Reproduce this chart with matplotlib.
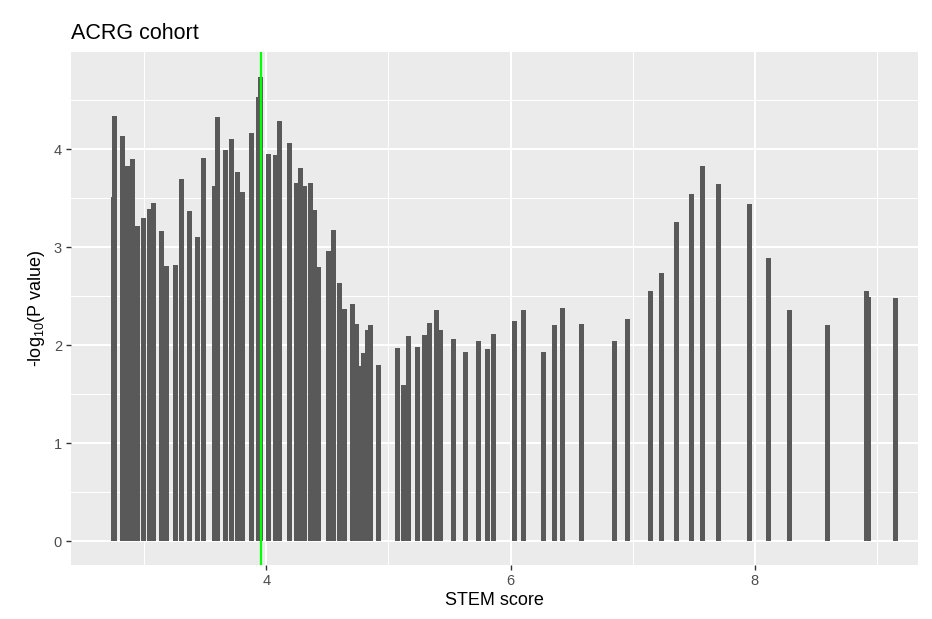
import matplotlib
matplotlib.use("Agg")
import matplotlib.pyplot as plt
import numpy as np

plt.rcParams['font.family'] = ['Liberation Sans', 'DejaVu Sans']
plt.rcParams['mathtext.default'] = 'regular'

# STEM score cut-offs and the -log10 P value at each one
stem_score = [
    2.746, 2.754, 2.820, 2.861, 2.902, 2.943, 2.992, 3.041, 3.074, 3.139,
    3.180, 3.254, 3.303, 3.369, 3.434, 3.484, 3.574, 3.598, 3.664, 3.713,
    3.762, 3.803, 3.877, 3.934, 3.951, 4.016, 4.074, 4.107, 4.189, 4.246,
    4.279, 4.311, 4.361, 4.393, 4.426, 4.508, 4.549, 4.598, 4.643, 4.705,
    4.738, 4.754, 4.795, 4.828, 4.852, 4.918, 5.074, 5.123, 5.164, 5.238,
    5.295, 5.336, 5.393, 5.426, 5.533, 5.631, 5.738, 5.811, 5.861, 6.033,
    6.107, 6.270, 6.361, 6.426, 6.582, 6.852, 6.959, 7.148, 7.238, 7.361,
    7.484, 7.574, 7.705, 7.959, 8.115, 8.287, 8.598, 8.918, 8.934, 9.156,
]
neg_log_p = [
    3.51, 4.34, 4.13, 3.83, 3.90, 3.22, 3.30, 3.39, 3.45, 3.17,
    2.81, 2.82, 3.70, 3.37, 3.10, 3.91, 3.62, 4.33, 3.99, 4.10,
    3.77, 3.56, 4.16, 4.53, 4.74, 3.95, 3.94, 4.29, 4.06, 3.65,
    3.81, 3.62, 3.65, 3.38, 2.80, 2.96, 3.18, 2.63, 2.37, 2.42,
    2.22, 1.79, 1.92, 2.16, 2.21, 1.80, 1.97, 1.60, 2.09, 1.98,
    2.10, 2.23, 2.36, 2.16, 2.06, 1.93, 2.04, 1.96, 2.12, 2.25,
    2.36, 1.93, 2.21, 2.38, 2.22, 2.04, 2.27, 2.55, 2.74, 3.26,
    3.54, 3.83, 3.64, 3.44, 2.89, 2.36, 2.21, 2.55, 2.49, 2.48,
]

x = np.array(stem_score)
y = np.array(neg_log_p)
best_cut = x[np.argmax(y)]

fig = plt.figure(figsize=(9.32, 6.19), dpi=100)
ax = fig.add_axes([0.0762, 0.0872, 0.9088, 0.8288])
ax.set_facecolor('#EBEBEB')

ax.bar(x, y, width=0.041, color='#595959', linewidth=0, zorder=3)
ax.axvline(best_cut, color='#00FF00', linewidth=1.6, zorder=4)

ax.set_xlim(2.398, 9.34)
ax.set_ylim(-0.24, 4.99)
ax.set_xticks([4, 6, 8])
ax.set_yticks([0, 1, 2, 3, 4])
ax.set_xticks([3, 5, 7, 9], minor=True)
ax.set_yticks([0.5, 1.5, 2.5, 3.5, 4.5], minor=True)

ax.grid(which='major', color='white', linewidth=1.5, zorder=1)
ax.grid(which='minor', color='white', linewidth=0.75, zorder=1)
ax.set_axisbelow(True)
for s in ax.spines.values():
    s.set_visible(False)

ax.tick_params(which='major', length=3.5, width=1, color='#333333',
               labelsize=10.5, labelcolor='#4D4D4D', pad=3)
ax.tick_params(which='minor', length=0)

ax.set_xlabel('STEM score', fontsize=13, color='black', labelpad=3)
ax.set_ylabel('-log$_{10}$(P value)', fontsize=13, color='black', labelpad=5)
ax.set_title('ACRG cohort', fontsize=15.5, loc='left', pad=9, x=0.0)

fig.savefig('out.png', dpi=100)
